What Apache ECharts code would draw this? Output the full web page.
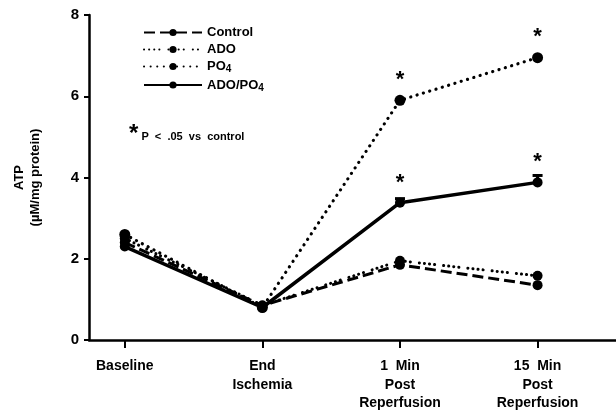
<!DOCTYPE html>
<html>
<head>
<meta charset="utf-8">
<script src="https://cdn.jsdelivr.net/npm/echarts@6/dist/echarts.min.js"></script>
<style>
html,body{margin:0;padding:0;background:#fff;}
#chart{width:616px;height:413px;}
</style>
</head>
<body>
<div id="chart"></div>
<script>
// time points
var categories = ['Baseline', 'End\nIschemia', '1  Min\nPost\nReperfusion', '15  Min\nPost\nReperfusion'];
// ATP (uM/mg protein)
var control = [2.4, 0.85, 1.85, 1.35];
var ado = [2.5, 0.85, 1.95, 1.58];
var po4 = [2.6, 0.8, 5.9, 6.95];
var adoPo4 = [2.3, 0.8, 3.38, 3.88];
// upper end of error bar (ADO/PO4)
var adoPo4Err = [null, null, 3.48, 4.05];
// significant vs control
var po4Sig = [false, false, true, true];
var adoPo4Sig = [false, false, true, true];
var yTicks = [0, 2, 4, 6, 8];

var font = 'Liberation Sans, Arial, sans-serif';

function toData(arr, sig){
	var out = [];
	for (var i = 0; i < arr.length; i++) {
		var item = {value: [i, arr[i]]};
		if (sig && sig[i]) {
			item.label = {show: true, formatter: '*', position: 'top', distance: 4,
				fontSize: 22, fontWeight: 'bold', color: '#000', fontFamily: font};
		}
		out.push(item);
	}
	return out;
}

var errData = [];
for (var i = 0; i < adoPo4Err.length; i++) {
	if (adoPo4Err[i] != null) errData.push([i, adoPo4[i], adoPo4Err[i]]);
}

var chart = echarts.init(document.getElementById('chart'));
var option = {
	animation: false,
	backgroundColor: '#fff',
	grid: {left: 89, right: 0, top: 15, bottom: 73},
	legend: {
		orient: 'vertical',
		left: 138,
		top: 21,
		itemWidth: 58,
		itemHeight: 9,
		itemGap: 4,
		textStyle: {color: '#000', fontSize: 13, fontWeight: 'bold', fontFamily: font,
			rich: {sub: {fontSize: 10, fontWeight: 'bold', verticalAlign: 'bottom', padding: [6, 0, 0, 0]}}},
		formatter: function(name){
			return name.replace(/PO4/g, 'PO{sub|4}');
		},
		data: ['Control', 'ADO', 'PO4', 'ADO/PO4']
	},
	xAxis: {
		type: 'value',
		min: -0.26,
		max: 3.57,
		splitLine: {show: false},
		axisLine: {lineStyle: {color: '#000', width: 2.5}},
		axisTick: {customValues: [0, 1, 2, 3], length: 8, lineStyle: {color: '#000', width: 2}},
		axisLabel: {
			customValues: [0, 1, 2, 3],
			formatter: function(v){ return categories[Math.round(v)]; },
			color: '#000', fontSize: 14, fontWeight: 'bold', fontFamily: font,
			lineHeight: 18.5, margin: 17
		}
	},
	yAxis: {
		type: 'value',
		min: 0,
		max: 8,
		interval: 2,
		name: 'ATP\n(\u00b5M/mg protein)',
		nameLocation: 'middle',
		nameRotate: 90,
		nameGap: 46,
		nameTextStyle: {color: '#000', fontSize: 13, fontWeight: 'bold', fontFamily: font, lineHeight: 16},
		splitLine: {show: false},
		axisLine: {show: true, onZero: false, lineStyle: {color: '#000', width: 2.5}},
		axisTick: {show: true, length: 5, lineStyle: {color: '#000', width: 2}},
		axisLabel: {color: '#000', fontSize: 15, fontWeight: 'bold', fontFamily: font, margin: 10}
	},
	graphic: [{
		type: 'text',
		left: 129,
		top: 122,
		style: {
			text: '{a|*}{b| P  <  .05  vs  control}',
			rich: {
				a: {fontSize: 24, fontWeight: 'bold', fill: '#000', fontFamily: font},
				b: {fontSize: 11, fontWeight: 'bold', fill: '#000', fontFamily: font, padding: [6, 0, 0, 0]}
			}
		}
	}],
	series: [{
		name: 'Control',
		type: 'line',
		data: toData(control),
		symbol: 'circle',
		symbolSize: 10,
		itemStyle: {color: '#000'},
		lineStyle: {color: '#000', width: 3, type: [11, 5]}
	}, {
		name: 'ADO',
		type: 'line',
		data: toData(ado),
		symbol: 'circle',
		symbolSize: 10,
		itemStyle: {color: '#000'},
		lineStyle: {color: '#000', width: 3, cap: 'round', type: [0.1, 5, 0.1, 5, 0.1, 5, 0.1, 9]}
	}, {
		name: 'PO4',
		type: 'line',
		data: toData(po4, po4Sig),
		symbol: 'circle',
		symbolSize: 11,
		itemStyle: {color: '#000'},
		lineStyle: {color: '#000', width: 3.2, cap: 'round', type: [0.1, 6.5]}
	}, {
		name: 'ADO/PO4',
		type: 'line',
		data: toData(adoPo4, adoPo4Sig),
		symbol: 'circle',
		symbolSize: 10,
		itemStyle: {color: '#000'},
		lineStyle: {color: '#000', width: 3.5},
		label: {distance: 12}
	}, {
		// error bars
		type: 'custom',
		silent: true,
		data: errData,
		renderItem: function(params, api){
			var p0 = api.coord([api.value(0), api.value(1)]);
			var p1 = api.coord([api.value(0), api.value(2)]);
			return {
				type: 'group',
				children: [{
					type: 'line',
					shape: {x1: p0[0], y1: p0[1], x2: p1[0], y2: p1[1]},
					style: {stroke: '#000', lineWidth: 3}
				}, {
					type: 'line',
					shape: {x1: p1[0] - 5, y1: p1[1], x2: p1[0] + 5, y2: p1[1]},
					style: {stroke: '#000', lineWidth: 3}
				}]
			};
		}
	}]
};
chart.setOption(option);
</script>
</body>
</html>
